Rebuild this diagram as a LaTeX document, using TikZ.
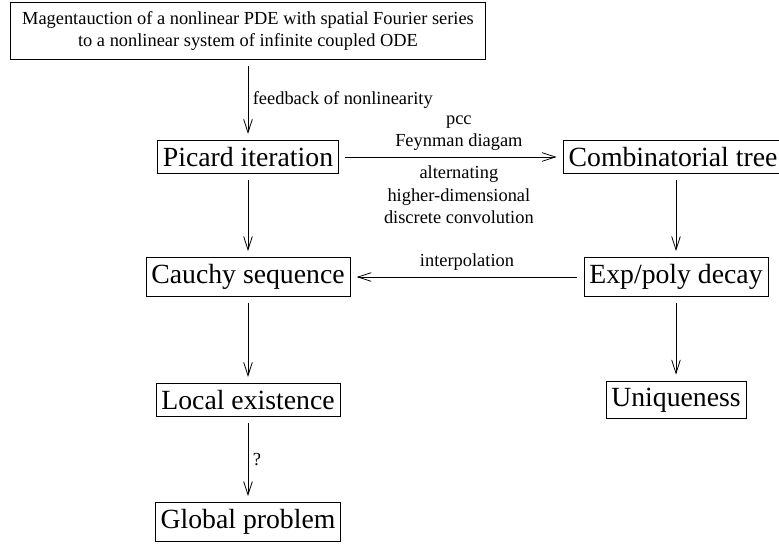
\documentclass[tikz,border=0pt]{standalone}
\usepackage{fontspec}
\setmainfont{Liberation Serif}
\usetikzlibrary{arrows.meta}

\begin{document}
\begin{tikzpicture}[x=0.75pt, y=-0.75pt, line width=0.6pt,
            box/.style={draw, rectangle, inner xsep=4pt, inner ysep=5pt, outer sep=5pt, font=\fontsize{20.8}{25}\selectfont},
            lbl/.style={font=\fontsize{13.8}{17}\selectfont, align=center},
            arr/.style={-{Straight Barb[length=10pt, width=6.5pt]}}]
            \useasboundingbox (0,0) rectangle (779,544);
            \node[draw, rectangle, lbl, inner xsep=9pt, inner ysep=6.5pt, outer sep=5pt] (source) at (248,31) {Magentauction of a nonlinear PDE with spatial Fourier series\\to a nonlinear system of infinite coupled ODE};
            \node[box] (picard) at (248,157) {Picard iteration};
            \node[box] (tree) at (673,157) {Combinatorial tree};
            \node[box] (decay) at (676,277) {Exp/poly decay};
            \node[box] (cauchy) at (248,277) {Cauchy sequence};
            \node[box] (local) at (248,400) {Local existence};
            \node[box] (global) at (248,522) {Global problem};
            \node[box] (unique) at (676,400) {Uniqueness};

            \draw[arr] (source) -- node[lbl, right] (feedlbl) {feedback of nonlinearity} (picard);
            \draw[arr] (picard) -- node[lbl, above, xshift=6pt, yshift=1pt] (pcclbl) {pcc\\Feynman diagam}
                node[lbl, below, xshift=6pt, yshift=-3pt] (convlbl) {alternating\\higher-dimensional\\discrete convolution} (tree);
            \draw[arr] (tree.south -| decay) -- (decay);
            \draw[arr] (decay) -- node[lbl, above, yshift=1pt] (interplbl) {interpolation} (cauchy);
            \draw[arr] (picard) -- (cauchy);
            \draw[arr] (cauchy) -- (local);
            \draw[arr] (local) -- node[lbl, right] (qlbl) {?} (global);
            \draw[arr] (decay) -- (unique);
        \end{tikzpicture}
\end{document}
